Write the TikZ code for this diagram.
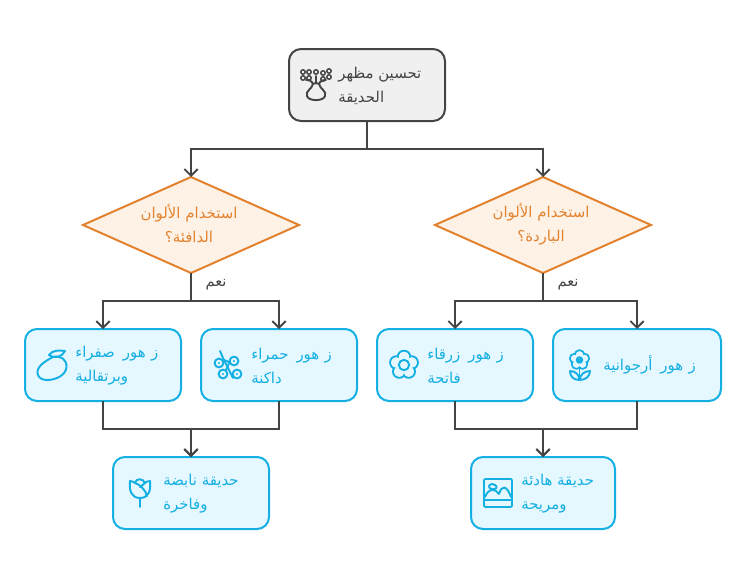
\documentclass[tikz,border=0pt]{standalone}
\usepackage{fontspec}
\usetikzlibrary{shapes.geometric,arrows.meta}
\TeXXeTstate=1
\newfontfamily\arabicfont[Script=Arabic]{DejaVu Sans}
\definecolor{cyanS}{HTML}{14AFE3}
\definecolor{cyanF}{HTML}{E5F8FF}
\definecolor{orS}{HTML}{E38330}
\definecolor{orF}{HTML}{FEF1E5}
\definecolor{grS}{HTML}{444444}
\definecolor{grF}{HTML}{F0F0F0}
\newcommand{\ar}[1]{\beginR #1\endR}
\newcommand{\zh}{ز\hspace{4pt}هور\hspace{6pt}}
\tikzset{
  x=0.75pt,y=-0.75pt,
  basebox/.style={rectangle,rounded corners=9pt,line width=1.5pt,inner sep=0pt,outer sep=0pt},
  cyanbox/.style={basebox,draw=cyanS,fill=cyanF},
  greybox/.style={basebox,draw=grS,fill=grF},
  dec/.style={diamond,draw=orS,fill=orF,line width=1.5pt,inner sep=0pt,outer sep=0pt,aspect=2.25,minimum width=162pt,minimum height=72pt},
  conn/.style={draw=grS,line width=1.5pt},
  arrowed/.style={conn,-{Straight Barb[length=5pt,width=10pt,line width=1.4pt]}},
  txt/.style={font=\arabicfont\fontsize{11.2pt}{18pt}\selectfont,align=left,inner sep=0pt,anchor=west},
  lab/.style={font=\arabicfont\fontsize{11pt}{12pt}\selectfont,text=grS,inner sep=0pt},
  ico/.style={line width=1.45pt,line cap=round,line join=round},
}
\begin{document}
\begin{tikzpicture}
\useasboundingbox (0,0) rectangle (746,578);
\node[greybox,minimum width=117pt,minimum height=54pt] (top) at (367,85) {};
\node[dec] (dl) at (191,225) {};
\node[dec] (dr) at (543,225) {};
\node[cyanbox,minimum width=117pt,minimum height=54pt] (a) at (103,365) {};
\node[cyanbox,minimum width=117pt,minimum height=54pt] (b) at (279,365) {};
\node[cyanbox,minimum width=117pt,minimum height=54pt] (c) at (455,365) {};
\node[cyanbox,minimum width=126pt,minimum height=54pt] (d) at (637,365) {};
\node[cyanbox,minimum width=117pt,minimum height=54pt] (e) at (191,493) {};
\node[cyanbox,minimum width=108pt,minimum height=54pt] (f) at (543,493) {};
\coordinate (j0) at (367,149);
\coordinate (j1) at (191,301);
\coordinate (j2) at (543,301);
\coordinate (m1) at (191,429);
\coordinate (m2) at (543,429);
\draw[arrowed] (top.south) -- (j0) -| (dl.north);
\draw[arrowed] (top.south) -- (j0) -| (dr.north);
\draw[arrowed] (dl.south) -- (j1) -| (a.north);
\draw[arrowed] (dl.south) -- (j1) -| (b.north);
\draw[arrowed] (dr.south) -- (j2) -| (c.north);
\draw[arrowed] (dr.south) -- (j2) -| (d.north);
\draw[arrowed] (a.south) |- (m1) -- (e.north);
\draw[arrowed] (b.south) |- (m1) -- (e.north);
\draw[arrowed] (c.south) |- (m2) -- (f.north);
\draw[arrowed] (d.south) |- (m2) -- (f.north);
\node[lab] (l1) at (216,285) {\ar{نعم}};
\node[lab] (l2) at (568,285) {\ar{نعم}};
\node[txt,text=grS] (ttop) at (338,85.5) {\ar{تحسين مظهر}\\\ar{الحديقة}};
\node[txt,text=orS,anchor=center,align=center] (tdl) at (189,224) {\ar{استخدام الألوان}\\\ar{الدافئة؟}};
\node[txt,text=orS,anchor=center,align=center] (tdr) at (541,224) {\ar{استخدام الألوان}\\\ar{الباردة؟}};
\node[txt,text=cyanS] (ta) at (75,366) {\ar{\zh صفراء}\\\ar{وبرتقالية}};
\node[txt,text=cyanS] (tb) at (251,366) {\ar{\zh حمراء}\\\ar{داكنة}};
\node[txt,text=cyanS] (tc) at (427,366) {\ar{\zh زرقاء}\\\ar{فاتحة}};
\node[txt,text=cyanS] (td) at (603,365) {\ar{\zh أرجوانية}};
\node[txt,text=cyanS] (te) at (163,494) {\ar{حديقة نابضة}\\\ar{وفاخرة}};
\node[txt,text=cyanS] (tf) at (521,494) {\ar{حديقة هادئة}\\\ar{ومريحة}};
% top icon
\begin{scope}[ico,draw=grS]
\draw (313,84) .. controls (312,89) and (305,91) .. (307,96) .. controls (308.5,101.5) and (323.5,101.5) .. (325,96) .. controls (327,91) and (320,89) .. (319,84) .. controls (318,83) and (314,83) .. (313,84) -- cycle;
\draw (313,84) .. controls (312,80) and (307,80) .. (306,80);
\draw (316,83) -- (316,76);
\draw (319,84) .. controls (320,80) and (325,80) .. (326,80);
\foreach \p in {(303,72),(309,72),(303,78),(309,78),(316,72),(323,73),(329,71),(323,79),(329,77)}
  \draw[line width=1.1pt] \p circle (2.2);
\end{scope}
% mango
\begin{scope}[ico,draw=cyanS]
\draw (53,357) .. controls (61,355) and (67,360) .. (66.5,367) .. controls (66,375) and (56,380) .. (47,380) .. controls (38,380) and (34,372) .. (41,365) .. controls (44,362) and (49,359) .. (53,357) -- cycle;
\draw (49,355) .. controls (52,350) and (60,350) .. (65,351) .. controls (62,357) and (55,359) .. (49,355) -- cycle;
\end{scope}
% scissors-like
\begin{scope}[ico,draw=cyanS]
\foreach \p/\q in {(219,363)/1,(234,361)/2,(223,374)/3,(237,374)/4}{
  \draw \p circle (4.4);
  \fill[cyanS] \p circle (1.2);
}
\draw (220,351) -- (223,358) -- (233,378);
\draw (230,361) -- (226,370);
\draw (224,360) -- (229,362);
\end{scope}
% flower c
\begin{scope}[ico,draw=cyanS]
\foreach \a in {90,162,234,306,378}
  \draw (404,365) ++(\a:8 and -8) circle (6.3);
\foreach \a in {90,162,234,306,378}
  \fill[cyanF] (404,365) ++(\a:8 and -8) circle (5.3);
\fill[cyanF] (404,365) circle (6);
\draw (404,365) circle (5.2);
\end{scope}
% flower d
\begin{scope}[ico,draw=cyanS]
\foreach \a in {90,162,234,306,378}
  \draw (579.5,360) ++(\a:5.2 and -5.2) circle (4.6);
\foreach \a in {90,162,234,306,378}
  \fill[cyanF] (579.5,360) ++(\a:5.2 and -5.2) circle (3.6);
\draw (579.5,360) circle (2.8);
\draw (579.5,368) -- (579.5,380);
\draw (570,371) .. controls (576,371) and (579,375) .. (579.5,380) .. controls (573,380) and (570,376) .. (570,371) -- cycle;
\draw (590,371) .. controls (584,371) and (580,375) .. (579.5,380) .. controls (586,380) and (590,376) .. (590,371) -- cycle;
\end{scope}
% rose
\begin{scope}[ico,draw=cyanS]
\draw (130,481) .. controls (129,490) and (131,498) .. (140,498) .. controls (149,498) and (151,490) .. (150,481) .. controls (147,481) and (146,482) .. (145,483) .. controls (143,478) and (136,478) .. (135,483) .. controls (134,482) and (132,481) .. (130,481) -- cycle;
\draw (135,483) .. controls (139,484) and (146,490) .. (147,496);
\draw (145,483) .. controls (143,485) and (141,486) .. (140,487);
\draw (140,498) -- (140,507);
\end{scope}
% picture
\begin{scope}[ico,draw=cyanS]
\draw[rounded corners=1pt] (484,479) rectangle (512,507);
\draw (484,500) -- (512,500);
\draw (485,497) .. controls (489,487) and (496,489) .. (499,494) .. controls (502,484) and (507,486) .. (511,497);
\draw (492,484) .. controls (488,484) and (488,489) .. (492,489) .. controls (497,490) and (498,486) .. (495,485) .. controls (494,484) and (493,484) .. (492,484) -- cycle;
\end{scope}
\end{tikzpicture}
\end{document}
